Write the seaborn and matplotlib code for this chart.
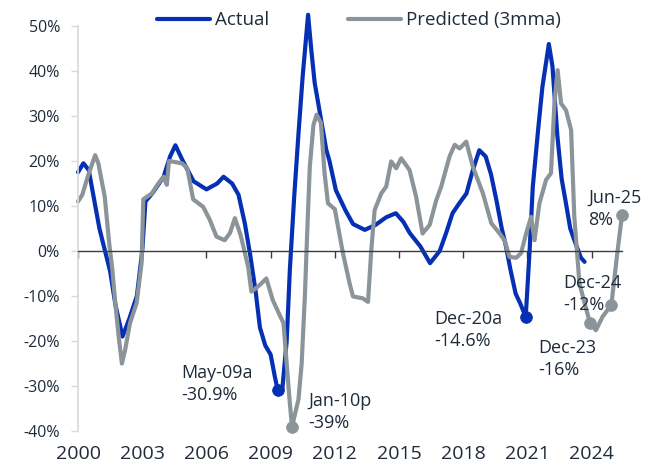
import numpy as np
import pandas as pd
import seaborn as sns
import matplotlib.pyplot as plt

# values (decimal years, % y/y)
actual_t = [2000.0, 2000.25, 2000.5, 2001.0, 2001.5, 2001.75, 2002.08, 2002.4, 2002.75, 2003.0,
            2003.15, 2003.5, 2004.0, 2004.3, 2004.55, 2004.9, 2005.4, 2006.0, 2006.5, 2006.8,
            2007.2, 2007.5, 2007.8, 2008.05, 2008.3, 2008.5, 2008.75, 2009.0, 2009.2, 2009.33,
            2009.55, 2009.75, 2009.9, 2010.1, 2010.3, 2010.5, 2010.75, 2010.9, 2011.06, 2011.2,
            2011.6, 2011.75, 2012.05, 2012.5, 2012.85, 2013.4, 2013.9, 2014.4, 2014.85, 2015.2,
            2015.5, 2016.0, 2016.45, 2016.9, 2017.2, 2017.5, 2017.8, 2018.15, 2018.45, 2018.75,
            2019.05, 2019.3, 2019.55, 2019.8, 2020.0, 2020.2, 2020.45, 2020.65, 2020.92, 2021.1,
            2021.25, 2021.5, 2021.7, 2022.0, 2022.17, 2022.4, 2022.6, 2022.8, 2023.0, 2023.3,
            2023.5, 2023.67]
actual_v = [17.5, 19.5, 18, 5, -4.5, -12, -19, -15, -10, 0,
            11, 13, 16.5, 21, 23.5, 20, 15.5, 13.7, 15, 16.5,
            15, 12.5, 6, -1, -9, -17, -21, -23, -28, -30.9,
            -30.5, -20, -4, 12, 26, 39, 52.5, 44.7, 37.3, 33.5,
            22.5, 20, 13.5, 9, 6, 4.7, 5.8, 7.5, 8.4, 6.5,
            4, 1, -2.7, 0, 4, 8.4, 10.5, 12.8, 18, 22.4,
            21, 17, 11.3, 5, 1, -4, -9.5, -11.5, -14.6, 0,
            14.3, 27, 36.5, 46, 41, 25.5, 16, 10.6, 5, 1,
            -1.5, -2.4]

pred_t = [2000.0, 2000.2, 2000.45, 2000.8, 2000.95, 2001.25, 2001.45, 2001.6, 2001.75, 2001.9,
          2002.05, 2002.2, 2002.43, 2002.74, 2002.97, 2003.05, 2003.45, 2003.75, 2004.0, 2004.15,
          2004.25, 2004.5, 2004.85, 2005.1, 2005.38, 2005.85, 2006.15, 2006.47, 2006.85, 2007.1,
          2007.33, 2007.6, 2007.95, 2008.1, 2008.25, 2008.5, 2008.8, 2009.1, 2009.4, 2009.6,
          2009.75, 2009.9, 2010.0, 2010.15, 2010.3, 2010.45, 2010.6, 2010.7, 2010.83, 2011.0,
          2011.15, 2011.35, 2011.52, 2011.68, 2012.0, 2012.15, 2012.38, 2012.69, 2012.85, 2013.3,
          2013.55, 2013.7, 2013.86, 2014.17, 2014.4, 2014.63, 2014.87, 2015.1, 2015.49, 2015.8,
          2016.1, 2016.43, 2016.74, 2016.97, 2017.36, 2017.6, 2017.83, 2018.14, 2018.45, 2018.92,
          2019.31, 2019.7, 2019.93, 2020.16, 2020.47, 2020.7, 2020.94, 2021.17, 2021.33, 2021.56,
          2021.87, 2022.1, 2022.26, 2022.41, 2022.57, 2022.8, 2023.04, 2023.19, 2023.43, 2023.92,
          2024.2, 2024.51, 2024.92, 2025.21, 2025.42]
pred_v = [11, 12.5, 16.5, 21.3, 19.5, 12, 2, -4, -12, -19,
          -25, -22, -16, -11.5, -2.7, 11.5, 12.8, 15, 16.5, 14.7,
          20, 19.8, 19.5, 18.5, 11.5, 9.8, 7, 3.2, 2.4, 4,
          7.3, 3.5, -3.5, -9, -8.5, -7.5, -6.1, -10.9, -14, -16,
          -25, -34, -39, -36, -33, -25, -10, 3, 18.7, 28,
          30.3, 28.5, 17.3, 10.6, 9.3, 5.4, -0.5, -7.2, -10.1, -10.5,
          -11.3, 0, 9.1, 12.8, 14.3, 19.9, 18.4, 20.6, 18, 12,
          3.9, 5.8, 11.3, 14.3, 21, 23.6, 22.8, 24.3, 18.7, 12.8,
          6.2, 3.9, 2.4, -1.3, -1.5, -0.5, 3.9, 7.6, 2.4, 10.6,
          15.8, 17.3, 32.8, 40.2, 32.8, 31.3, 26.9, 7.6, -7.2, -16,
          -17.6, -14.6, -12, 0, 8]

actual_marks = [2009.33, 2020.92]
actual_mark_labels = ['May-09a\n-30.9%', 'Dec-20a\n-14.6%']
pred_marks = [2010.0, 2023.92, 2024.92, 2025.42]
pred_mark_labels = ['Jan-10p\n-39%', 'Dec-23\n-16%', 'Dec-24\n-12%', 'Jun-25\n8%']

xticks = [2000, 2003, 2006, 2009, 2012, 2015, 2018, 2021, 2024]
yticks = [-40, -30, -20, -10, 0, 10, 20, 30, 40, 50]
ylabels = ['-40%', '-30%', '-20%', '-10%', '0%', '10%', '20%', '30%', '40%', '50%']

blue = '#0530b4'
grey = '#8b9499'
txt = '#1e2b3a'

df_act = pd.DataFrame({'t': actual_t, 'v': actual_v})
df_pred = pd.DataFrame({'t': pred_t, 'v': pred_v})

sns.set_theme(style='white')
plt.rcParams['font.family'] = ['Open Sans', 'DejaVu Sans']

fig = plt.figure(figsize=(6.59, 4.68), dpi=100)
ax = fig.add_axes([0.1184, 0.079, 0.8255, 0.8654])

sns.lineplot(data=df_act, x='t', y='v', color=blue, lw=3, ax=ax, label='Actual',
             clip_on=False, solid_capstyle='round')
sns.lineplot(data=df_pred, x='t', y='v', color=grey, lw=3, ax=ax, label='Predicted (3mma)',
             clip_on=False, solid_capstyle='round')

# labelled points
ma = df_act[df_act['t'].isin(actual_marks)]
mp = df_pred[df_pred['t'].isin(pred_marks)]
sns.scatterplot(data=ma, x='t', y='v', color=blue, s=70, ax=ax, zorder=5, clip_on=False,
                edgecolor=blue, legend=False)
sns.scatterplot(data=mp, x='t', y='v', color=grey, s=70, ax=ax, zorder=5, clip_on=False,
                edgecolor=grey, legend=False)

offsets = {2009.33: (-96, 26), 2020.92: (-91, 7), 2010.0: (16, 35),
           2023.92: (-52, -16), 2024.92: (-48, 31), 2025.42: (-34, 26)}
for t, lab in zip(actual_marks + pred_marks, actual_mark_labels + pred_mark_labels):
    src = df_act if t in actual_marks else df_pred
    v = src.loc[src['t'] == t, 'v'].iloc[0]
    ax.annotate(lab, (t, v), xytext=offsets[t], textcoords='offset pixels',
                ha='left', va='top', fontsize=13, color=txt, linespacing=1.3)

ax.set_xlim(2000, 2025.42)
ax.set_ylim(-40, 50)
ax.set_xlabel('')
ax.set_ylabel('')

ax.set_yticks(yticks)
ax.set_yticklabels(ylabels)
ax.tick_params(axis='y', length=5, width=1, color='#d9d9d9', labelsize=11.5,
               labelcolor=txt, pad=8, left=True)

# x-axis line crosses at zero, labels at the bottom
ax.spines['bottom'].set_position(('data', 0))
ax.spines['bottom'].set_color('#3c3c3c')
ax.spines['bottom'].set_linewidth(1)
ax.set_xticks(xticks)
ax.tick_params(axis='x', direction='out', length=5, width=1, color='#3c3c3c',
               labelbottom=False, bottom=True)
sec = ax.secondary_xaxis('bottom')
sec.set_xticks(xticks)
sec.set_xticklabels([str(x) for x in xticks])
sec.spines['bottom'].set_visible(False)
sec.tick_params(length=0, labelsize=14, labelcolor=txt, pad=10)

ax.spines['left'].set_color('#d9d9d9')
ax.spines['top'].set_visible(False)
ax.spines['right'].set_visible(False)

handles, labels = ax.get_legend_handles_labels()
if ax.get_legend() is not None:
    ax.get_legend().remove()
leg = fig.legend(handles[:2], labels[:2], loc='center', bbox_to_anchor=(0.545, 0.957),
                 ncol=2, frameon=False, fontsize=13.5, handlelength=2.8,
                 handletextpad=0.3, columnspacing=4.2)
for t in leg.get_texts():
    t.set_color(txt)

fig.savefig('out.png', dpi=100)
